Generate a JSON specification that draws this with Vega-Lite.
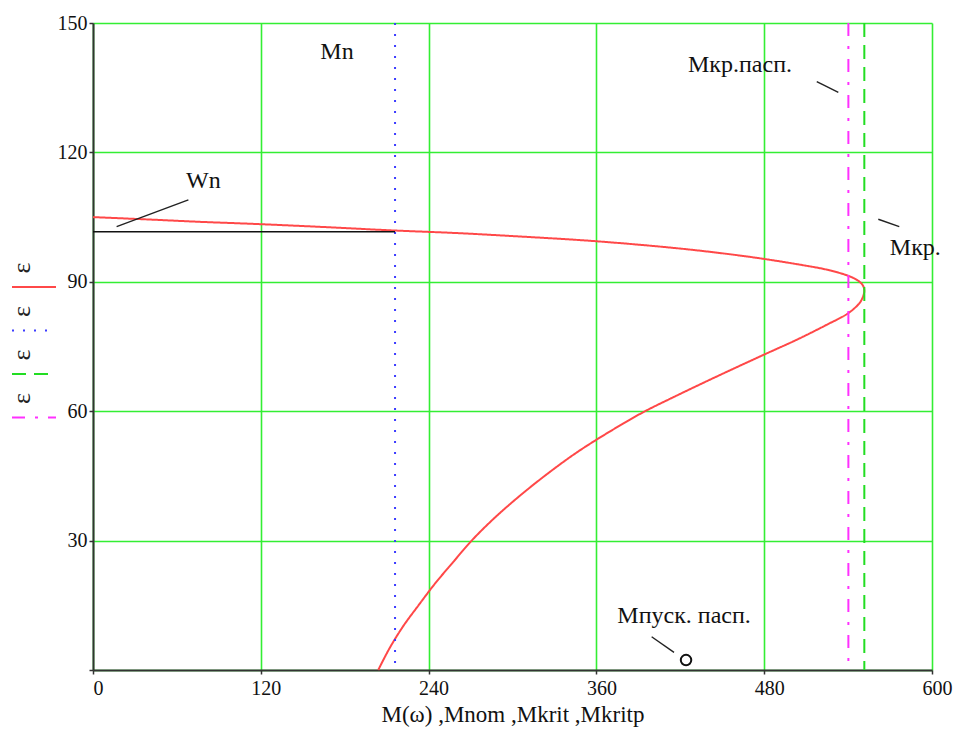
{
  "$schema": "https://vega.github.io/schema/vega-lite/v6.json",
  "width": 839,
  "height": 647,
  "autosize": "none",
  "padding": {"left": 93, "top": 23, "right": 22, "bottom": 66},
  "background": "white",
  "datasets": {
    "traces": [
      {"series": "M(ω)", "i": 0, "M": 0, "eps": 105.0},
      {"series": "M(ω)", "i": 1, "M": 43, "eps": 104.4},
      {"series": "M(ω)", "i": 2, "M": 76.5, "eps": 103.9},
      {"series": "M(ω)", "i": 3, "M": 117, "eps": 103.4},
      {"series": "M(ω)", "i": 4, "M": 165, "eps": 102.7},
      {"series": "M(ω)", "i": 5, "M": 215, "eps": 101.9},
      {"series": "M(ω)", "i": 6, "M": 260, "eps": 101.3},
      {"series": "M(ω)", "i": 7, "M": 300, "eps": 100.6},
      {"series": "M(ω)", "i": 8, "M": 360, "eps": 99.4},
      {"series": "M(ω)", "i": 9, "M": 420, "eps": 97.7},
      {"series": "M(ω)", "i": 10, "M": 460, "eps": 96.2},
      {"series": "M(ω)", "i": 11, "M": 482, "eps": 95.2},
      {"series": "M(ω)", "i": 12, "M": 505, "eps": 94.0},
      {"series": "M(ω)", "i": 13, "M": 525, "eps": 92.8},
      {"series": "M(ω)", "i": 14, "M": 540, "eps": 91.4},
      {"series": "M(ω)", "i": 15, "M": 547, "eps": 90.3},
      {"series": "M(ω)", "i": 16, "M": 550.5, "eps": 89.2},
      {"series": "M(ω)", "i": 17, "M": 551.6, "eps": 88.0},
      {"series": "M(ω)", "i": 18, "M": 550.6, "eps": 86.5},
      {"series": "M(ω)", "i": 19, "M": 548, "eps": 85.0},
      {"series": "M(ω)", "i": 20, "M": 540, "eps": 82.7},
      {"series": "M(ω)", "i": 21, "M": 524.5, "eps": 80.0},
      {"series": "M(ω)", "i": 22, "M": 503.5, "eps": 76.6},
      {"series": "M(ω)", "i": 23, "M": 481.8, "eps": 73.4},
      {"series": "M(ω)", "i": 24, "M": 459, "eps": 70.0},
      {"series": "M(ω)", "i": 25, "M": 434, "eps": 66.2},
      {"series": "M(ω)", "i": 26, "M": 413.5, "eps": 63.0},
      {"series": "M(ω)", "i": 27, "M": 394.8, "eps": 60.0},
      {"series": "M(ω)", "i": 28, "M": 378.5, "eps": 57.0},
      {"series": "M(ω)", "i": 29, "M": 359.6, "eps": 53.3},
      {"series": "M(ω)", "i": 30, "M": 344, "eps": 50.0},
      {"series": "M(ω)", "i": 31, "M": 323, "eps": 45.0},
      {"series": "M(ω)", "i": 32, "M": 303.8, "eps": 40.0},
      {"series": "M(ω)", "i": 33, "M": 286.3, "eps": 35.0},
      {"series": "M(ω)", "i": 34, "M": 270.8, "eps": 30.0},
      {"series": "M(ω)", "i": 35, "M": 257.5, "eps": 25.0},
      {"series": "M(ω)", "i": 36, "M": 244.5, "eps": 20.0},
      {"series": "M(ω)", "i": 37, "M": 232.8, "eps": 15.0},
      {"series": "M(ω)", "i": 38, "M": 221.5, "eps": 10.0},
      {"series": "M(ω)", "i": 39, "M": 212, "eps": 5.0},
      {"series": "M(ω)", "i": 40, "M": 204, "eps": 0},
      {"series": "Mnom", "i": 0, "M": 216, "eps": 150},
      {"series": "Mnom", "i": 1, "M": 216, "eps": 0},
      {"series": "Mkrit", "i": 0, "M": 551.6, "eps": 150},
      {"series": "Mkrit", "i": 1, "M": 551.6, "eps": 0},
      {"series": "Mkritp", "i": 0, "M": 540.2, "eps": 150},
      {"series": "Mkritp", "i": 1, "M": 540.2, "eps": 0}
    ],
    "wn": [
      {"M": 0, "eps": 101.6},
      {"M": 216, "eps": 101.6}
    ],
    "leaders": [
      {"id": "Wn", "M": 16.9, "eps": 102.8},
      {"id": "Wn", "M": 68.2, "eps": 109.0},
      {"id": "Mkp", "M": 517.6, "eps": 136.4},
      {"id": "Mkp", "M": 533.0, "eps": 133.9},
      {"id": "Mk", "M": 561.6, "eps": 104.5},
      {"id": "Mk", "M": 576.6, "eps": 102.8},
      {"id": "Mpusk", "M": 399.5, "eps": 7.7},
      {"id": "Mpusk", "M": 415.5, "eps": 4.1}
    ],
    "labels": [
      {"text": "Mn", "M": 174.5, "eps": 143.3},
      {"text": "Wn", "M": 78.9, "eps": 113.4},
      {"text": "Мкр.пасп.", "M": 462.7, "eps": 140.3},
      {"text": "Мкр.", "M": 588.1, "eps": 97.8},
      {"text": "Мпуск. пасп.", "M": 422.7, "eps": 12.5}
    ],
    "start": [
      {"M": 424.1, "eps": 2.3}
    ]
  },
  "encoding": {
    "x": {
      "field": "M", "type": "quantitative",
      "scale": {"domain": [0, 600], "nice": false, "zero": false},
      "axis": {
        "values": [0, 120, 240, 360, 480, 600],
        "title": "M(ω) ,Mnom ,Mkrit ,Mkritp",
        "labelFlush": false,
        "labelPadding": 4,
        "labelOffset": 5,
        "titlePadding": 5
      }
    },
    "y": {
      "field": "eps", "type": "quantitative",
      "scale": {"domain": [0, 150], "nice": false, "zero": false},
      "axis": {
        "values": [0, 30, 60, 90, 120, 150],
        "labelExpr": "datum.value == 0 ? '' : datum.label",
        "title": null,
        "labelFlush": false,
        "labelPadding": 2
      }
    }
  },
  "layer": [
    {
      "data": {"name": "traces"},
      "mark": {"type": "line", "strokeWidth": 2, "clip": false, "interpolate": "catmull-rom"},
      "encoding": {
        "order": {"field": "i", "type": "quantitative"},
        "detail": {"field": "series"},
        "color": {
          "field": "series", "type": "nominal",
          "scale": {"domain": ["M(ω)", "Mnom", "Mkrit", "Mkritp"], "range": ["#ff4848", "#3c3cff", "#22dd22", "#ff30ff"]},
          "legend": {
            "orient": "none", "legendX": -82, "legendY": 235,
            "title": null, "padding": 0,
            "symbolType": "stroke", "symbolSize": 1936, "symbolStrokeWidth": 2,
            "labelExpr": "'ε'", "labelFontSize": 26, "labelFont": "Times New Roman, Liberation Serif, DejaVu Serif, serif", "labelColor": "#222",
            "rowPadding": 10.5,
            "encode": {
              "labels": {"update": {"angle": {"value": -90}, "x": {"value": 11}, "y": {"value": 10}, "align": {"value": "center"}, "baseline": {"value": "middle"}}},
              "symbols": {"update": {"y": {"value": 29}}}
            }
          }
        },
        "strokeDash": {
          "field": "series", "type": "nominal",
          "scale": {"domain": ["M(ω)", "Mnom", "Mkrit", "Mkritp"], "range": [[1, 0], [2, 9], [14, 8], [13, 10, 3, 10]]},
          "legend": {
            "orient": "none", "legendX": -82, "legendY": 235,
            "title": null, "padding": 0,
            "symbolType": "stroke", "symbolSize": 1936, "symbolStrokeWidth": 2,
            "labelExpr": "'ε'", "labelFontSize": 26, "labelFont": "Times New Roman, Liberation Serif, DejaVu Serif, serif", "labelColor": "#222",
            "rowPadding": 10.5,
            "encode": {
              "labels": {"update": {"angle": {"value": -90}, "x": {"value": 11}, "y": {"value": 10}, "align": {"value": "center"}, "baseline": {"value": "middle"}}},
              "symbols": {"update": {"y": {"value": 29}}}
            }
          }
        }
      }
    },
    {
      "data": {"name": "wn"},
      "mark": {"type": "line", "color": "#111111", "strokeWidth": 1.6},
      "encoding": {}
    },
    {
      "data": {"name": "leaders"},
      "mark": {"type": "line", "color": "#222222", "strokeWidth": 1.4, "clip": false},
      "encoding": {"detail": {"field": "id"}}
    },
    {
      "data": {"name": "labels"},
      "mark": {"type": "text", "font": "Times New Roman, Liberation Serif, DejaVu Serif, serif", "fontSize": 24, "color": "#111111", "align": "center", "baseline": "middle", "clip": false},
      "encoding": {"text": {"field": "text"}}
    },
    {
      "data": {"name": "start"},
      "mark": {"type": "point", "shape": "circle", "size": 110, "filled": true, "fill": "white", "stroke": "#111111", "strokeWidth": 2, "opacity": 1},
      "encoding": {}
    }
  ],
  "config": {
    "font": "Times New Roman, Liberation Serif, DejaVu Serif, serif",
    "view": {"stroke": null},
    "axis": {
      "domainColor": "#333333", "domainWidth": 2,
      "tickColor": "#333333", "tickWidth": 1.5, "tickSize": 4,
      "labelFont": "Times New Roman, Liberation Serif, DejaVu Serif, serif", "labelFontSize": 20, "labelColor": "#111111",
      "gridColor": "#33ee33", "gridWidth": 1.6, "gridOpacity": 1,
      "titleFont": "Times New Roman, Liberation Serif, DejaVu Serif, serif", "titleFontSize": 23, "titleFontWeight": "normal", "titleColor": "#111111"
    }
  }
}
